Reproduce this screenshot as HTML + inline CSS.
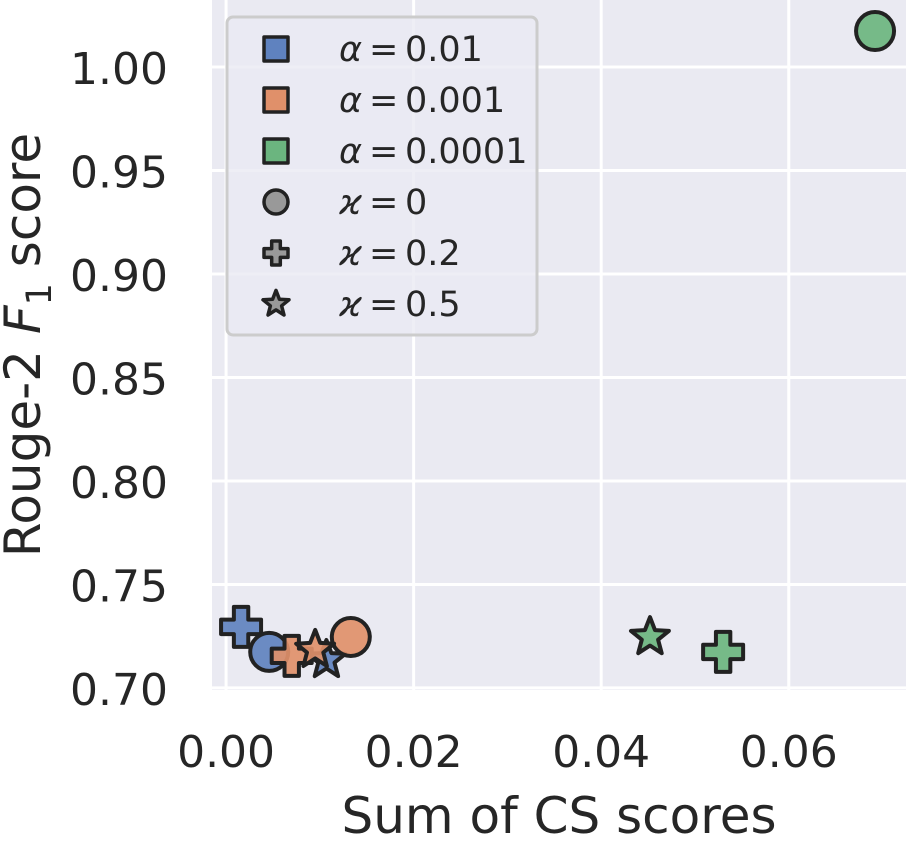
<!DOCTYPE html>
<html><head><meta charset="utf-8"><style>
body{margin:0;background:#fff}
svg text{font-family:"DejaVu Sans","Liberation Sans",sans-serif;fill:#262626}
</style></head><body>
<svg id="chart" width="906" height="842" xmlns="http://www.w3.org/2000/svg">
<rect x="212" y="0" width="694" height="690" fill="#eaeaf2"/>
<g id="grid"></g>
<g id="ticks"></g>
<g id="marks"></g>
<text x="559" y="833" font-size="50" text-anchor="middle">Sum of CS scores</text>
<text transform="translate(40,345) rotate(-90)" font-size="50" text-anchor="middle">Rouge-2 <tspan font-style="italic">F</tspan><tspan font-size="35" dy="11">1</tspan><tspan dy="-11"> score</tspan></text>
<g>
<rect x="227" y="17" width="310" height="318" rx="6" fill="#eaeaf2" fill-opacity="0.8" stroke="#cccccc" stroke-width="3"/>
<g id="legend-items"></g>
</g>
</svg>
<script>
const xTicks=[0.00,0.02,0.04,0.06];
const xTickLabels=["0.00","0.02","0.04","0.06"];
const yTicks=[0.70,0.75,0.80,0.85,0.90,0.95,1.00];
const yTickLabels=["0.70","0.75","0.80","0.85","0.90","0.95","1.00"];
const alphaGroups=["0.01","0.001","0.0001"];
const groupColors=["#5f82bf","#e0906a","#6bb57f"];
const kappaStyles=["circle","plus","star"];
// x values per alpha group, ordered by kappa: 0, 0.2, 0.5
const xVals=[[0.0046,0.0016,0.0107],[0.0133,0.0070,0.0095],[0.0692,0.0530,0.0452]];
const yVals=[[0.7174,0.7295,0.7135],[0.7246,0.7155,0.7184],[1.0174,0.7174,0.7246]];
const X0=-0.0015,X1=0.0725,Y0=0.699,Y1=1.0324;
const xs=v=>212+(v-X0)/(X1-X0)*694;
const ys=v=>690-(v-Y0)/(Y1-Y0)*690;
const NS="http://www.w3.org/2000/svg";
function mk(tag,attrs,parent){const e=document.createElementNS(NS,tag);for(const k in attrs)e.setAttribute(k,attrs[k]);parent.appendChild(e);return e;}
const grid=document.getElementById('grid'),ticks=document.getElementById('ticks'),marks=document.getElementById('marks');
xTicks.forEach((t,i)=>{
 const l=mk('line',{x1:xs(t),x2:xs(t),y1:0,y2:690,stroke:'#fff','stroke-width':3},grid);
 
 
 const tx=mk('text',{x:xs(t),y:767,'font-size':44,'text-anchor':'middle'},ticks);tx.textContent=xTickLabels[i];
 
 
});
yTicks.forEach((t,i)=>{
 const l=mk('line',{x1:212,x2:906,y1:ys(t),y2:ys(t),stroke:'#fff','stroke-width':3},grid);
 
 
 const tx=mk('text',{x:168,y:ys(t)+17,'font-size':44,'text-anchor':'end'},ticks);tx.textContent=yTickLabels[i];
 
 
});
function shape(kind,cx,cy,s,fill,parent,sw){
 let e;
 if(kind==='circle')e=mk('circle',{cx,cy,r:s},parent);
 else if(kind==='square')e=mk('rect',{x:cx-s,y:cy-s,width:2*s,height:2*s},parent);
 else if(kind==='plus'){const a=s*0.36,b=s;e=mk('path',{d:`M${cx-a},${cy-b}H${cx+a}V${cy-a}H${cx+b}V${cy+a}H${cx+a}V${cy+b}H${cx-a}V${cy+a}H${cx-b}V${cy-a}H${cx-a}Z`},parent);}
 else{let p='';for(let i=0;i<10;i++){const r=i%2?s*0.45:s*1.05;const an=-Math.PI/2+i*Math.PI/5;p+=(i?'L':'M')+(cx+r*Math.cos(an)).toFixed(1)+','+(cy+r*Math.sin(an)).toFixed(1);}e=mk('path',{d:p+'Z'},parent);}
 e.setAttribute('fill',fill);e.setAttribute('stroke','#222');e.setAttribute('stroke-width',sw);e.setAttribute('stroke-linejoin','round');
 return e;
}
const sizes={circle:19,plus:20,star:19};
alphaGroups.forEach((g,gi)=>{kappaStyles.forEach((k,ki)=>{
 const e=shape(k,xs(xVals[gi][ki]),ys(yVals[gi][ki]),sizes[k],groupColors[gi],marks,4);
 e.setAttribute('fill-opacity','0.92');
 
 
});});
const li=document.getElementById('legend-items');
const legendLabels=[['α','0.01'],['α','0.001'],['α','0.0001'],['ϰ','0'],['ϰ','0.2'],['ϰ','0.5']];
const legendShapes=['square','square','square','circle','plus','star'];
const legendColors=[groupColors[0],groupColors[1],groupColors[2],'#999','#999','#999'];
legendLabels.forEach((lb,i)=>{
 const y=49+i*51;
 const s=shape(legendShapes[i],276,y,legendShapes[i]==='star'?13:12,legendColors[i],li,3.5);
 
 
 const t=mk('text',{y:y+12,'font-size':35},li);
 t.innerHTML='<tspan x="339" font-style="italic">'+lb[0]+'</tspan><tspan x="369">=</tspan><tspan x="405">'+lb[1]+'</tspan>';
 
 
});
</script>
</body></html>
